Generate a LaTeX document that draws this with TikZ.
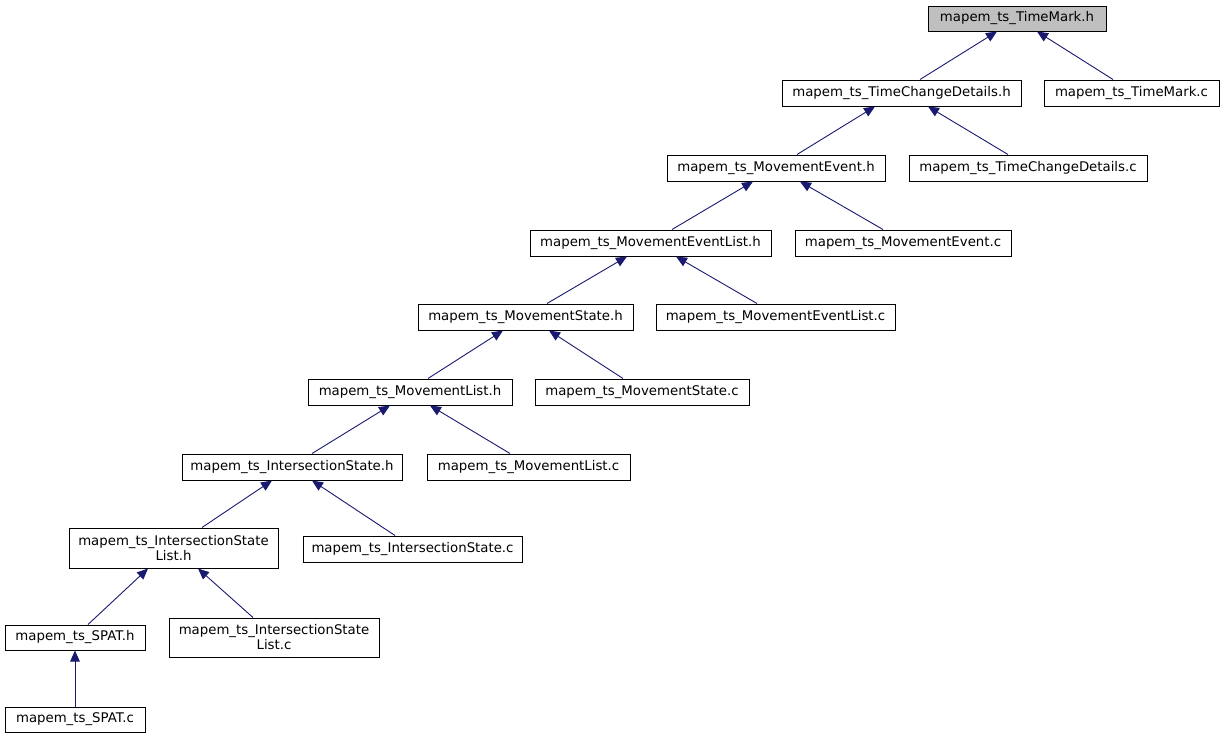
\documentclass[tikz,border=0pt]{standalone}
\usepackage{fontspec}
\setmainfont{DejaVu Sans}
\usetikzlibrary{arrows.meta}
\definecolor{edgeblue}{HTML}{191970}
\definecolor{hilite}{HTML}{BFBFBF}
\begin{document}
\begin{tikzpicture}[x=1pt,y=-1pt,
  box/.style={draw=black,line width=1pt,fill=white,inner sep=0pt,minimum height=26pt,align=center,font=\fontsize{13.3}{15}\selectfont},
  edge/.style={draw=edgeblue,line width=0.9pt,{Triangle[length=11pt,width=9.5pt,fill=edgeblue]}-}]
\useasboundingbox (0,0) rectangle (1225,739);
\node[box,fill=hilite,minimum width=178pt,minimum height=25pt] (tmh) at (1017,18.5) {mapem\_ts\_TimeMark.h};
\node[box,minimum width=239pt] (tcdh) at (901.5,93) {mapem\_ts\_TimeChangeDetails.h};
\node[box,minimum width=175pt] (tmc) at (1131.5,93) {mapem\_ts\_TimeMark.c};
\node[box,minimum width=218pt] (meh) at (776,168) {mapem\_ts\_MovementEvent.h};
\node[box,minimum width=238pt] (tcdc) at (1028,168) {mapem\_ts\_TimeChangeDetails.c};
\node[box,minimum width=241pt] (melh) at (650.5,243) {mapem\_ts\_MovementEventList.h};
\node[box,minimum width=216pt] (mec) at (903,243) {mapem\_ts\_MovementEvent.c};
\node[box,minimum width=215pt] (msh) at (525.5,317) {mapem\_ts\_MovementState.h};
\node[box,minimum width=239pt] (melc) at (775.5,317) {mapem\_ts\_MovementEventList.c};
\node[box,minimum width=204pt] (mlh) at (410,392) {mapem\_ts\_MovementList.h};
\node[box,minimum width=214pt] (msc) at (642,392) {mapem\_ts\_MovementState.c};
\node[box,minimum width=220pt] (ish) at (292,467) {mapem\_ts\_IntersectionState.h};
\node[box,minimum width=203pt] (mlc) at (528.5,467) {mapem\_ts\_MovementList.c};
\node[box,minimum width=209pt,minimum height=40pt] (islh) at (173.5,548) {mapem\_ts\_IntersectionState\\List.h};
\node[box,minimum width=219pt] (isc) at (412.5,549) {mapem\_ts\_IntersectionState.c};
\node[box,minimum width=140pt,minimum height=25pt] (spath) at (75,637.5) {mapem\_ts\_SPAT.h};
\node[box,minimum width=210pt,minimum height=39pt] (islc) at (274,637.5) {mapem\_ts\_IntersectionState\\List.c};
\node[box,minimum width=140pt,minimum height=25pt] (spatc) at (75,719.5) {mapem\_ts\_SPAT.c};
\draw[edge] ([xshift=-20pt]tmh.south) -- ([xshift=18.5pt]tcdh.north);
\draw[edge] ([xshift=20pt]tmh.south) -- ([xshift=-18.5pt]tmc.north);
\draw[edge] ([xshift=-26.5pt]tcdh.south) -- ([xshift=21pt]meh.north);
\draw[edge] ([xshift=26.5pt]tcdh.south) -- ([xshift=-20pt]tcdc.north);
\draw[edge] ([xshift=-23pt]meh.south) -- ([xshift=21.5pt]melh.north);
\draw[edge] ([xshift=24pt]meh.south) -- ([xshift=-20pt]mec.north);
\draw[edge] ([xshift=-23.5pt]melh.south) -- ([xshift=21.5pt]msh.north);
\draw[edge] ([xshift=25.5pt]melh.south) -- ([xshift=-18.5pt]melc.north);
\draw[edge] ([xshift=-22.5pt]msh.south) -- ([xshift=18pt]mlh.north);
\draw[edge] ([xshift=23.5pt]msh.south) -- ([xshift=-19pt]msc.north);
\draw[edge] ([xshift=-20pt]mlh.south) -- ([xshift=20pt]ish.north);
\draw[edge] ([xshift=20pt]mlh.south) -- ([xshift=-18.5pt]mlc.north);
\draw[edge] ([xshift=-20pt]ish.south) -- ([xshift=28.5pt]islh.north);
\draw[edge] ([xshift=20pt]ish.south) -- ([xshift=-17.5pt]isc.north);
\draw[edge] ([xshift=-25.5pt]islh.south) -- ([xshift=13pt]spath.north);
\draw[edge] ([xshift=24.5pt]islh.south) -- ([xshift=-21pt]islc.north);
\draw[edge] (spath.south) -- (spatc.north);
\end{tikzpicture}
\end{document}
